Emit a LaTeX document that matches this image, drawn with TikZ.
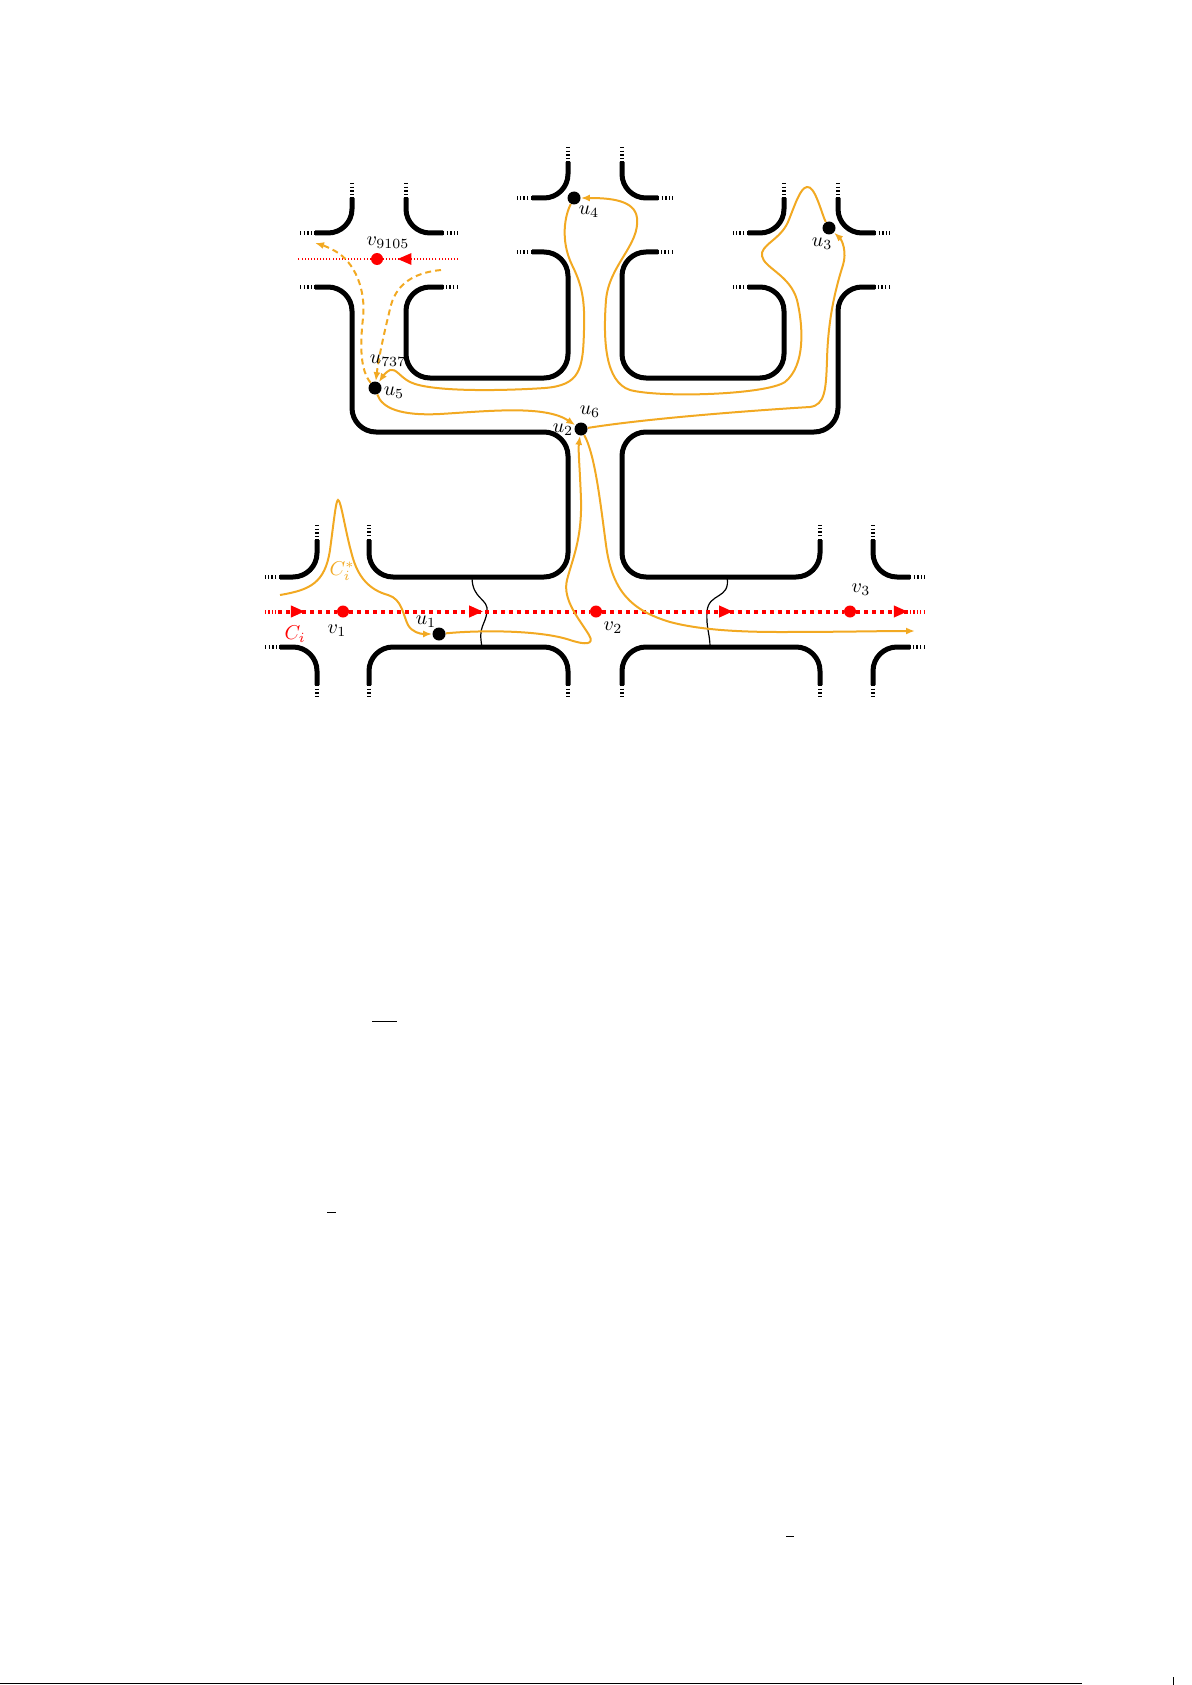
\documentclass[tikz,border=0pt]{standalone}
\usepackage{amsmath}
\usepackage{amssymb}
\usepackage{tikz}
\usetikzlibrary{arrows.meta}
\usetikzlibrary{decorations.markings}
\definecolor{cstarorange}{RGB}{242,169,34}

\begin{document}
\begin{tikzpicture}[x=0.5pt,y=-0.5pt,
  wall/.style={line width=2.5pt,rounded corners=12pt},
  wallend/.style={line width=2.2pt,dash pattern=on 0.7pt off 1.1pt},
  cycline/.style={red,line width=2pt,dash pattern=on 2pt off 2pt},
  cycend/.style={red,line width=2pt,dash pattern=on 0.6pt off 1.1pt},
  farcyc/.style={red,line width=1.4pt,dash pattern=on 0.45pt off 1.1pt},
  midtip/.style={postaction={decorate},decoration={markings,mark=at position #1 with {\arrow{Triangle[length=7pt,width=5.5pt]}}}},
  cstar/.style={cstarorange,line width=1pt,-{Latex[length=4.5pt,width=3.5pt]}},
  cstardash/.style={cstar,dash pattern=on 3pt off 2pt},
  blackdot/.style={circle,fill=black,inner sep=0pt,minimum size=6.5pt},
  reddot/.style={circle,fill=red,inner sep=0pt,minimum size=6pt},
  lbl/.style={inner sep=0pt}]
\useasboundingbox (0,0) rectangle (1192,1685);

% top left crossing
\draw[wall] (352,198) -- (352,233) -- (315,233);
\draw[wall] (406,198) -- (406,233) -- (443,233);
\draw[wallend] (352,183) -- (352,198) (300,233) -- (315,233);
\draw[wallend] (406,183) -- (406,198) (443,233) -- (458,233);
% outer left wall
\draw[wall] (315,287) -- (352,287) -- (352,432) -- (568,432) -- (568,577) -- (369,577) -- (369,540);
\draw[wallend] (300,287) -- (315,287) (369,540) -- (369,525);
% inner left block
\draw[wall] (443,287) -- (406,287) -- (406,378) -- (568,378) -- (568,252) -- (532,252);
\draw[wallend] (458,287) -- (443,287) (532,252) -- (517,252);
% top middle crossing
\draw[wall] (568,162) -- (568,198) -- (532,198);
\draw[wall] (622,162) -- (622,198) -- (658,198);
\draw[wallend] (568,147) -- (568,162) (532,198) -- (517,198);
\draw[wallend] (622,147) -- (622,162) (658,198) -- (673,198);
% inner right block
\draw[wall] (658,252) -- (622,252) -- (622,378) -- (784,378) -- (784,287) -- (748,287);
\draw[wallend] (673,252) -- (658,252) (748,287) -- (733,287);
% top right crossing
\draw[wall] (784,198) -- (784,233) -- (748,233);
\draw[wall] (838,198) -- (838,233) -- (875,233);
\draw[wallend] (784,183) -- (784,198) (748,233) -- (733,233);
\draw[wallend] (838,183) -- (838,198) (875,233) -- (890,233);
% outer right wall
\draw[wall] (875,287) -- (838,287) -- (838,432) -- (622,432) -- (622,577) -- (820,577) -- (820,540);
\draw[wallend] (890,287) -- (875,287) (820,540) -- (820,525);
% bottom row
\draw[wall] (317,540) -- (317,577) -- (280,577);
\draw[wallend] (317,525) -- (317,540) (280,577) -- (265,577);
\draw[wall] (280,647) -- (317,647) -- (317,685);
\draw[wallend] (265,647) -- (280,647) (317,685) -- (317,698);
\draw[wall] (369,685) -- (369,647) -- (568,647) -- (568,685);
\draw[wallend] (369,685) -- (369,698) (568,685) -- (568,698);
\draw[wall] (622,685) -- (622,647) -- (820,647) -- (820,685);
\draw[wallend] (622,685) -- (622,698) (820,685) -- (820,698);
\draw[wall] (873,540) -- (873,577) -- (910,577);
\draw[wallend] (873,525) -- (873,540) (910,577) -- (925,577);
\draw[wall] (910,647) -- (873,647) -- (873,685);
\draw[wallend] (925,647) -- (910,647) (873,685) -- (873,698);
% cuts
\draw[line width=0.6pt] (472,577) .. controls (472,600) and (489,598) .. (487,612) .. controls (485,626) and (478,626) .. (482,647);
\draw[line width=0.6pt] (727,577) .. controls (731,600) and (708,592) .. (707,612) .. controls (706,628) and (710,634) .. (710,647);

% cycle C_i
\coordinate (ci-ww) at (265,611.5);
\coordinate (ci-w) at (278,611.5);
\coordinate (ci-e) at (910,611.5);
\coordinate (ci-ee) at (925,611.5);
\node[reddot] (v1) at (343,611.5) {};
\node[reddot] (v2) at (596,611.5) {};
\node[reddot] (v3) at (850,611.5) {};
\draw[cycend] (ci-ww) -- (ci-w);
\draw[cycline,midtip=0.46] (ci-w) -- (v1);
\draw[cycline,midtip=0.557] (v1) -- (v2);
\draw[cycline,midtip=0.542] (v2) -- (v3);
\draw[cycline,midtip=0.96] (v3) -- (ci-e);
\draw[cycend] (ci-e) -- (ci-ee);
% far cycle
\coordinate (far-w) at (298,259);
\coordinate (far-e) at (458,259);
\node[reddot] (v9105) at (377,259) {};
\draw[farcyc,midtip=0.813] (far-e) -- (v9105);
\draw[farcyc] (v9105) -- (far-w);

% vertices of C_i^*
\node[blackdot] (u1) at (439,634) {};
\node[blackdot] (u2) at (581,429) {};
\node[blackdot] (u3) at (829,228) {};
\node[blackdot] (u4) at (574,198) {};
\node[blackdot] (u5) at (375,388) {};
\coordinate (cs-start) at (280,595);
\coordinate (cs-end) at (915,631);
\coordinate (dnw) at (315,243);
\coordinate (dne) at (441,270);

% C_i^*
\draw[cstar] (cs-start) .. controls (310,590) and (325,583) .. (330,550) .. controls (334,520) and (336,500) .. (338,500) .. controls (341,500) and (345,530) .. (352,555) .. controls (358,578) and (370,590) .. (388,595) .. controls (402,599) and (403,615) .. (408,625) .. controls (412,632) and (420,634) .. (u1);
\draw[cstar] (u1) .. controls (480,630) and (540,630) .. (570,640) .. controls (585,645) and (595,645) .. (589,635) .. controls (580,620) and (562,600) .. (567,580) .. controls (572,560) and (582,540) .. (581,500) .. controls (580,470) and (578,450) .. (u2);
\draw[cstar] (u2) .. controls (650,418) and (760,410) .. (810,407) .. controls (825,405) and (826,390) .. (827,360) .. controls (828,320) and (835,290) .. (843,265) .. controls (847,252) and (842,240) .. (u3);
\draw[cstar] (u3) .. controls (822,215) and (815,185) .. (807,187) .. controls (800,188) and (795,205) .. (788,222) .. controls (780,240) and (760,245) .. (762,256) .. controls (764,268) and (790,275) .. (797,300) .. controls (803,325) and (806,365) .. (785,382) .. controls (765,395) and (660,398) .. (630,390) .. controls (605,382) and (603,340) .. (606,300) .. controls (609,265) and (640,245) .. (637,218) .. controls (635,200) and (610,198) .. (u4);
\draw[cstar] (u4) .. controls (565,215) and (560,240) .. (572,265) .. controls (582,285) and (585,300) .. (584,330) .. controls (583,370) and (580,385) .. (545,388) .. controls (500,391) and (430,392) .. (410,382) .. controls (400,377) and (396,368) .. (390,370) .. controls (386,372) and (383,376) .. (u5);
\draw[cstar] (u5) .. controls (382,408) and (400,416) .. (440,414) .. controls (490,411) and (545,405) .. (u2);
\draw[cstar] (u2) .. controls (595,455) and (600,500) .. (606,545) .. controls (612,590) and (630,610) .. (670,622) .. controls (700,630) and (740,632) .. (780,632) .. controls (840,632) and (880,631) .. (cs-end);
% detour through v_9105
\draw[cstardash] (u5) .. controls (360,370) and (360,345) .. (363,318) .. controls (366,290) and (355,262) .. (335,251) .. controls (328,247) and (322,245) .. (dnw);
\draw[cstardash] (dne) .. controls (420,272) and (398,280) .. (391,305) .. controls (386,325) and (379,355) .. (u5);

% labels
\node[lbl] (l-v9105) at (388,243) {$v_{9105}$};
\node[lbl] (l-u4) at (589,212) {$u_4$};
\node[lbl] (l-u3) at (822,244) {$u_3$};
\node[lbl] (l-u737) at (388,361) {$u_{737}$};
\node[lbl] (l-u5) at (394,393) {$u_5$};
\node[lbl] (l-u6) at (590,412) {$u_6$};
\node[lbl] (l-u2) at (563,430) {$u_2$};
\node[lbl] (l-u1) at (426,622) {$u_1$};
\node[lbl] (l-v1) at (337,631) {$v_1$};
\node[lbl,red] (l-ci) at (295,634) {$C_i$};
\node[lbl,cstarorange] (l-cstar) at (342,571) {$C_i^*$};
\node[lbl] (l-v2) at (613,628) {$v_2$};
\node[lbl] (l-v3) at (861,590) {$v_3$};

% marks further down the page
\draw[line width=0.5pt] (372,1021) -- (397,1021);
\draw[line width=0.5pt] (327,1212) -- (336,1212);
\draw[line width=0.5pt] (786,1536) -- (794,1536);
\draw[line width=0.8pt] (0,1683.5) -- (1082,1683.5);
\draw[line width=0.4pt] (1173,1677) -- (1173,1685);
\end{tikzpicture}
\end{document}
